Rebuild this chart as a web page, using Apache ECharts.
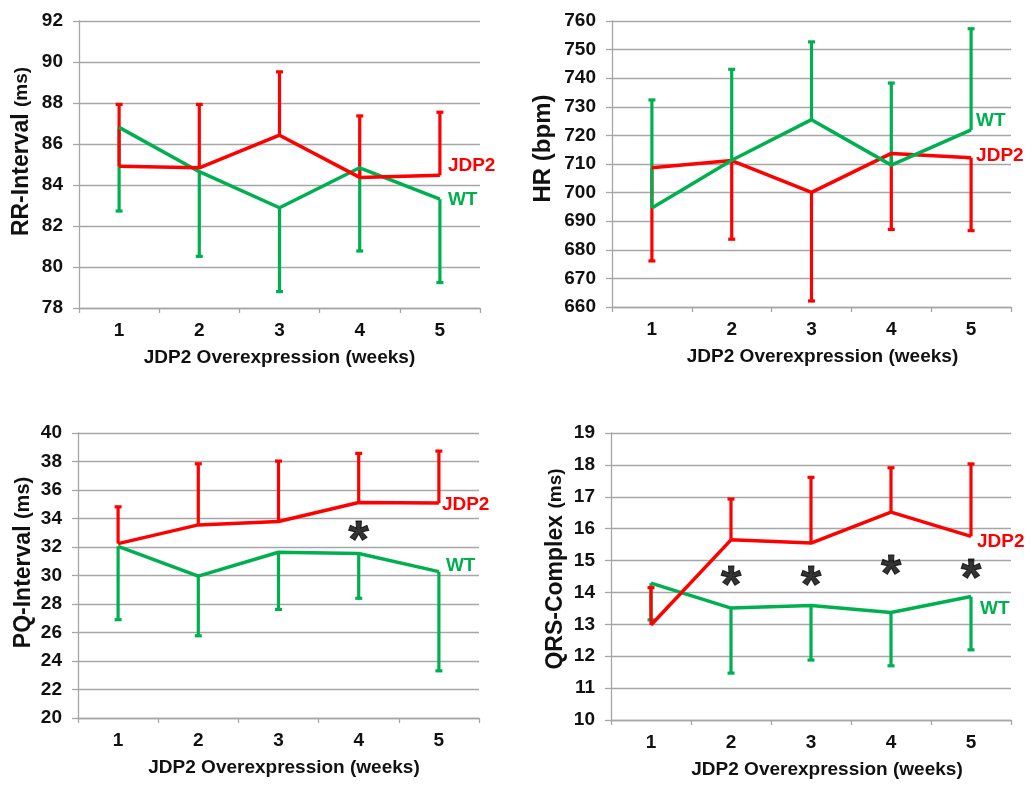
<!DOCTYPE html>
<html>
<head>
<meta charset="utf-8">
<script src="https://cdn.jsdelivr.net/npm/echarts@6/dist/echarts.min.js"></script>
<style>
html,body{margin:0;padding:0;background:#fff;}
#main{width:1033px;height:789px;}
</style>
</head>
<body>
<div id="main"></div>
<script>
// ---- data ----
const categories = ['1', '2', '3', '4', '5'];

const rrJdp2 = [84.92, 84.84, 86.43, 84.37, 84.47];
const rrJdp2Err = [87.93, 87.93, 89.52, 87.37, 87.55];
const rrWt = [86.81, 84.65, 82.89, 84.84, 83.31];
const rrWtErr = [82.73, 80.52, 78.80, 80.78, 79.24];

const hrJdp2 = [708.7, 711.2, 700.1, 713.7, 712.2];
const hrJdp2Err = [676.1, 683.7, 662.1, 687.1, 686.7];
const hrWt = [694.6, 711.3, 725.5, 709.6, 721.9];
const hrWtErr = [732.4, 743.1, 752.7, 738.3, 757.3];

const pqJdp2 = [32.24, 33.55, 33.79, 35.12, 35.08];
const pqJdp2Err = [34.82, 37.84, 38.03, 38.57, 38.73];
const pqWt = [32.05, 29.96, 31.63, 31.54, 30.27];
const pqWtErr = [26.90, 25.77, 27.62, 28.40, 23.31];

const qrsJdp2 = [12.98, 15.65, 15.55, 16.52, 15.76];
const qrsJdp2Err = [14.15, 16.93, 17.61, 17.91, 18.03];
const qrsWt = [14.29, 13.51, 13.59, 13.37, 13.87];
const qrsWtErr = [13.14, 11.47, 11.88, 11.70, 12.20];

const pqStars = [null, null, null, 33.0, null];
const qrsStars = [null, 14.45, 14.45, 14.81, 14.68];

const yRanges = [[78, 92, 2], [660, 760, 10], [20, 40, 2], [10, 19, 1]];
const yTitles = [['RR-Interval ', '(ms)'], ['HR (bpm)', ''], ['PQ-Interval ', '(ms)'], ['QRS-Complex ', '(ms)']];
const xTitle = 'JDP2 Overexpression (weeks)';

// ---- style ----
const RED = '#ff0000';
const GREEN = '#00b050';
const GRAYLINE = '#a6a6a6';
const FONT = "'Liberation Sans', Arial, sans-serif";

const grids = [
  {left: 79, top: 21, width: 401, height: 287},
  {left: 612, top: 21, width: 399, height: 286},
  {left: 78, top: 433, width: 401, height: 285},
  {left: 611, top: 433, width: 400, height: 287}
];
const yNameGap = [46, 57, 43, 44];
const yNamePad = [26, 31, 26, 15];
const yMainSize = [23, 24, 23, 23];
const ySubSize = [19, 24, 20, 19];
const xNamePad = [0, 22, 11, 32];

function errSeries(idx, means, errs, color) {
  return {
    type: 'custom',
    xAxisIndex: idx, yAxisIndex: idx,
    z: 3,
    silent: true,
    data: means.map((m, i) => [i, m, errs[i]]),
    renderItem: function (params, api) {
      const p0 = api.coord([api.value(0), api.value(1)]);
      const p1 = api.coord([api.value(0), api.value(2)]);
      const hw = 3.5;
      return {
        type: 'group',
        children: [
          {type: 'line', shape: {x1: p0[0], y1: p0[1], x2: p1[0], y2: p1[1]}, style: {stroke: color, lineWidth: 3.2}},
          {type: 'line', shape: {x1: p1[0] - hw, y1: p1[1], x2: p1[0] + hw, y2: p1[1]}, style: {stroke: color, lineWidth: 3.2}}
        ]
      };
    }
  };
}

function lineSeries(idx, name, vals, color, labelOffset) {
  return {
    type: 'line', name: name,
    xAxisIndex: idx, yAxisIndex: idx,
    data: vals, symbol: 'none', z: 4,
    lineStyle: {color: color, width: 3.5},
    itemStyle: {color: color},
    endLabel: {show: true, distance: 5, offset: labelOffset, formatter: name,
      color: color, fontSize: 19, fontWeight: 'bold', fontFamily: FONT},
    animation: false
  };
}

function starSeries(idx, vals) {
  return {
    type: 'scatter',
    xAxisIndex: idx, yAxisIndex: idx,
    data: vals.map((v, i) => v == null ? null : [i, v]).filter(d => d),
    symbolSize: 2,
    itemStyle: {color: 'rgba(0,0,0,0)'},
    z: 5,
    label: {show: true, position: 'inside', formatter: '*', fontSize: 52, fontWeight: 'bold',
      color: '#000', fontFamily: FONT, offset: [0, 10],
      textBorderColor: '#000', textBorderWidth: 1}
  };
}

const xAxes = grids.map((g, i) => ({
  type: 'category', gridIndex: i, data: categories, boundaryGap: true,
  axisLine: {show: true, lineStyle: {color: GRAYLINE, width: 1.3}},
  axisTick: {show: true, length: 5, lineStyle: {color: GRAYLINE, width: 1.3}},
  axisLabel: {color: '#111', fontSize: 19, fontWeight: 'bold', fontFamily: FONT, margin: 13},
  name: xTitle, nameLocation: 'middle', nameGap: 40,
  nameTextStyle: {color: '#111', fontSize: 19, fontWeight: 'bold', fontFamily: FONT, padding: [0, 0, 0, xNamePad[i]]}
}));

const yAxes = grids.map((g, i) => ({
  type: 'value', gridIndex: i,
  min: yRanges[i][0], max: yRanges[i][1], interval: yRanges[i][2],
  axisLine: {show: true, lineStyle: {color: GRAYLINE, width: 1.3}},
  axisTick: {show: true, length: 6, lineStyle: {color: GRAYLINE, width: 1.3}},
  splitLine: {show: true, lineStyle: {color: GRAYLINE, width: 1.3}},
  axisLabel: {color: '#111', fontSize: 19, fontWeight: 'bold', fontFamily: FONT, margin: 16},
  name: '{a|' + yTitles[i][0] + '}' + (yTitles[i][1] ? '{b|' + yTitles[i][1] + '}' : ''),
  nameLocation: 'middle', nameRotate: 90, nameGap: yNameGap[i],
  nameTextStyle: {
    color: '#111', fontFamily: FONT, fontWeight: 'bold',
    padding: [0, 0, 0, yNamePad[i]],
    rich: {
      a: {fontSize: yMainSize[i], fontWeight: 'bold', fontFamily: FONT, color: '#111'},
      b: {fontSize: ySubSize[i], fontWeight: 'bold', fontFamily: FONT, color: '#111'}
    }
  }
}));

const series = [
  errSeries(0, rrWt, rrWtErr, GREEN),
  errSeries(0, rrJdp2, rrJdp2Err, RED),
  lineSeries(0, 'WT', rrWt, GREEN, [3, 1]),
  lineSeries(0, 'JDP2', rrJdp2, RED, [3, -10]),

  errSeries(1, hrJdp2, hrJdp2Err, RED),
  errSeries(1, hrWt, hrWtErr, GREEN),
  lineSeries(1, 'JDP2', hrJdp2, RED, [0, -2]),
  lineSeries(1, 'WT', hrWt, GREEN, [0, -9]),

  errSeries(2, pqWt, pqWtErr, GREEN),
  errSeries(2, pqJdp2, pqJdp2Err, RED),
  lineSeries(2, 'WT', pqWt, GREEN, [2, -6]),
  lineSeries(2, 'JDP2', pqJdp2, RED, [-2, 2]),
  starSeries(2, pqStars),

  errSeries(3, qrsWt, qrsWtErr, GREEN),
  errSeries(3, qrsJdp2, qrsJdp2Err, RED),
  lineSeries(3, 'WT', qrsWt, GREEN, [4, 12]),
  lineSeries(3, 'JDP2', qrsJdp2, RED, [1, 5]),
  starSeries(3, qrsStars)
];

const chart = echarts.init(document.getElementById('main'), null, {renderer: 'canvas'});
chart.setOption({
  animation: false,
  backgroundColor: '#fff',
  textStyle: {fontFamily: FONT},
  grid: grids,
  xAxis: xAxes,
  yAxis: yAxes,
  series: series
});
</script>
</body>
</html>
